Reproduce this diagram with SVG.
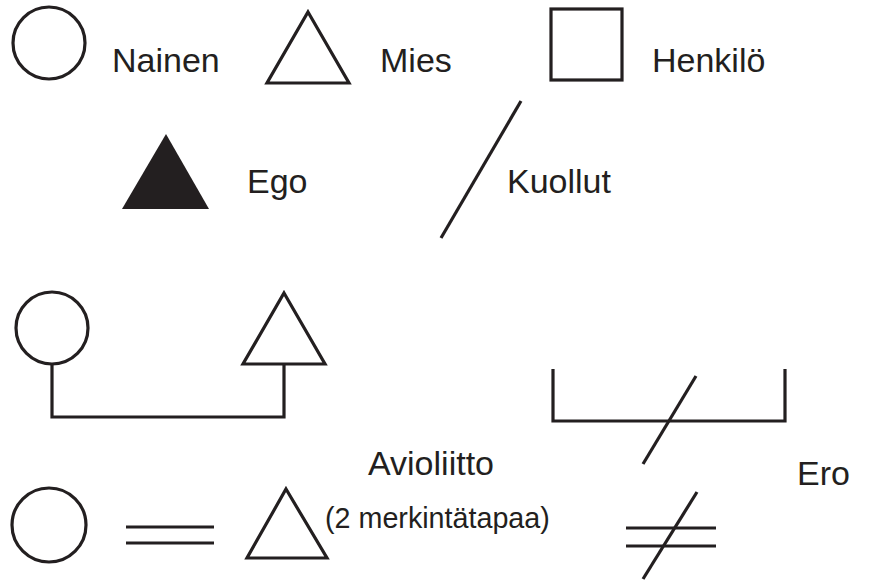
<svg xmlns="http://www.w3.org/2000/svg" width="881" height="584" viewBox="0 0 881 584">
<style>
.s{fill:none;stroke:#231f20;stroke-width:3.2;stroke-linejoin:miter}
.t{font-family:"Liberation Sans",Arial,sans-serif;font-size:34px;fill:#231f20}
.ts{font-family:"Liberation Sans",Arial,sans-serif;font-size:28.7px;fill:#231f20}
</style>
<rect width="881" height="584" fill="#fff"/>
<g id="nainen"><circle class="s" cx="49" cy="43" r="36"/><text class="t" x="112" y="72">Nainen</text></g>
<g id="mies"><polygon class="s" points="308,12 349,83 267,83"/><text class="t" x="380" y="72">Mies</text></g>
<g id="henkilo"><rect class="s" x="551" y="9" width="71" height="71"/><text class="t" x="652" y="72">Henkilö</text></g>
<g id="ego"><polygon fill="#231f20" points="166,134 209,209 122,209"/><text class="t" x="247" y="193">Ego</text></g>
<g id="kuollut"><line class="s" x1="521" y1="101" x2="441" y2="238"/><text class="t" x="507" y="193">Kuollut</text></g>
<g id="nainen2"><circle class="s" cx="52" cy="328" r="36"/></g>
<g id="mies2"><polygon class="s" points="284,293 325,364 243,364"/></g>
<g id="nainen3"><circle class="s" cx="49" cy="525" r="37"/></g>
<g id="mies3"><polygon class="s" points="286,489 327,558 247,558"/></g>
<g id="avioliitto"><text class="t" x="368" y="475">Avioliitto</text><text class="ts" x="325" y="528">(2 merkintätapaa)</text></g>
<g id="ero"><text class="t" x="797" y="485">Ero</text></g>
<g id="connectors">
<polyline class="s" points="52,364 52,417 284,417 284,364"/>
<line class="s" x1="126" y1="527" x2="214" y2="527"/>
<line class="s" x1="126" y1="543" x2="214" y2="543"/>
<polyline class="s" points="553,369 553,421 785,421 785,369"/>
<line class="s" x1="696" y1="376" x2="643" y2="464"/>
<line class="s" x1="626" y1="528" x2="716" y2="528"/>
<line class="s" x1="626" y1="546" x2="716" y2="546"/>
<line class="s" x1="697" y1="492" x2="643" y2="579"/>
</g>
</svg>
